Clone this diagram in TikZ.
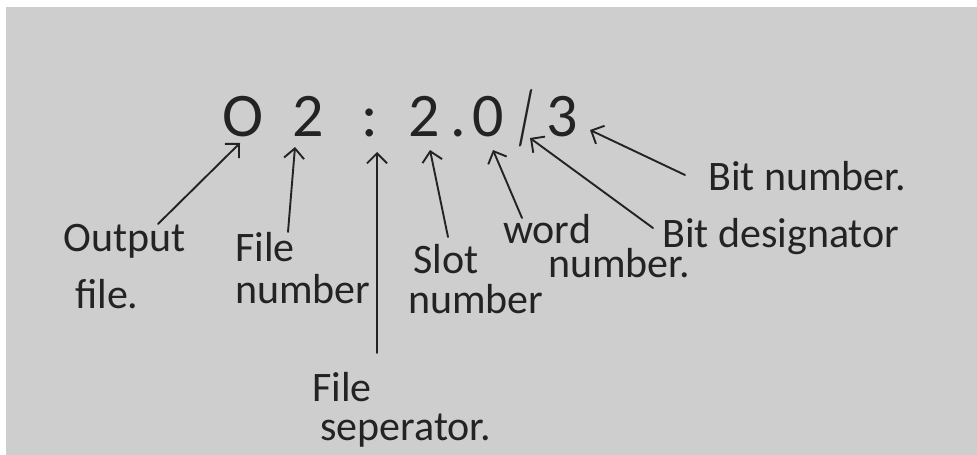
\documentclass[tikz,border=0pt]{standalone}
\usepackage{fontspec}
\setmainfont{Carlito}
\usepackage{tikz}
\usetikzlibrary{arrows.meta}
\definecolor{paper}{RGB}{206,206,206}
\definecolor{ink}{RGB}{35,35,35}
\lineskiplimit=-100pt

\begin{document}
\begin{tikzpicture}[
  x=1pt, y=-1pt,
  lbl/.style = {anchor=north west, inner sep=0pt, align=left,
                font=\fontsize{42}{34}\selectfont, text=ink},
  glyph/.style = {anchor=base, inner sep=0pt,
                  font=\fontsize{62}{62}\selectfont, text=ink},
  ptr/.style = {-{Straight Barb[length=10pt,width=20pt]}, line width=1.9pt,
                draw=ink, line cap=round}
]

% sheet, with the white strip on top and left
\fill[white] (0,0) rectangle (977,455);
\fill[paper] (6,7) rectangle (977,455);
\useasboundingbox (0,0) rectangle (977,455);

% the address O2:2.0/3, one glyph per node
\node[glyph] (gO)     at (243,136) {O};
\node[glyph] (gfile)  at (308,136) {2};
\node[glyph] (gcolon) at (370,136) {:};
\node[glyph] (gslot)  at (424,136) {2};
\node[glyph] (gdot)   at (458,136) {.};
\node[glyph] (gword)  at (488,136) {0};
\node[glyph, anchor=center] (gslash) at (526,118) {\scalebox{0.55}[1.25]{/}};
\node[glyph] (gbit)   at (562,136) {3};

% labels underneath
\node[lbl] (out)  at (63,224)  {Output\\[23pt]\hspace*{12pt}file.};
\node[lbl] (fnum) at (235,232) {File\\[8pt]number};
\node[lbl] (sep)  at (312,372) {File\\[5pt]\hspace*{8pt}seperator.};
\node[lbl] (slot) at (413,244) {Slot\\[6pt]\hspace*{-5pt}number};
\node[lbl] (word) at (503,214) {word\\[0pt]\hspace*{45pt}number.};
\node[lbl] (bdes) at (662,218) {Bit designator};
\node[lbl] (bnum) at (708,161) {Bit number.};

% pointers from each label up to its part of the address
\draw[ptr] ([xshift=95pt]out.north west) -- ([xshift=-3pt,yshift=-7pt]gO.base);
\draw[ptr] ([xshift=53pt]fnum.north west) -- ([xshift=-13pt,yshift=-11pt]gfile.base);
\draw[ptr] ([xshift=65pt,yshift=19pt]sep.north west) -- ([xshift=7pt,yshift=-16pt]gcolon.base);
\draw[ptr] ([xshift=35pt,yshift=7pt]slot.north west) -- ([xshift=6pt,yshift=-14pt]gslot.base);
\draw[ptr] ([xshift=19pt,yshift=-4pt]word.north west) -- ([xshift=5pt,yshift=-14pt]gword.base);
\draw[ptr] ([xshift=-9pt,yshift=-10pt]bdes.north west) -- ([xshift=4pt,yshift=-20pt]gslash.center);
\draw[ptr] ([xshift=-23pt,yshift=-14pt]bnum.north west) -- ([xshift=28pt,yshift=6pt]gbit.base);

\end{tikzpicture}
\end{document}
